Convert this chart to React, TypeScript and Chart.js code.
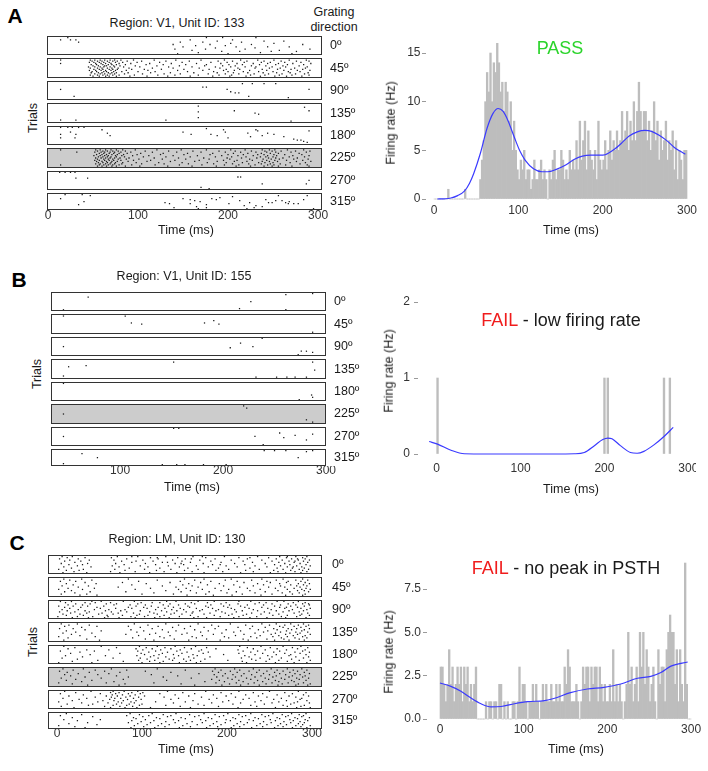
import React, { useEffect, useRef } from "react";
import { Chart, registerables } from "chart.js";

Chart.register(...registerables);

const FONT = '"Liberation Sans", Arial, Helvetica, sans-serif';
const TICK_COLOR = "#333333";
const TEXT_COLOR = "#1a1a1a";

// ---------- shared labels ----------
const DIRECTIONS = ["0º", "45º", "90º", "135º", "180º", "225º", "270º", "315º"];
const TIME_TICKS = [0, 100, 200, 300];
const TIME_TICKS_B = [100, 200, 300];
const BIN_MS = 2;

// ---------- A: V1 unit 133, spike times (ms) per trial, one list per direction ----------
const A_DIR_0 = [[22,176,194,231],[],[14,25,31,158,205],[188,240,262],[34,147,172,215],[203,251],[139,180,226,283],[164,197],[150,209,244,268],[186,230],[141,175,219,291],[160,257],[193,213,248,276],[167,236],[144,200,271]];
const A_DIR_45 = [
  [14,47,52,58,63,69,74,81,95,118,142,170,196,214,233,251,268,287],
  [49,55,60,66,72,77,88,104,131,157,189,205,221,240,259,276,290],
  [46,51,57,62,68,75,83,99,124,149,181,199,218,237,247,263,281],
  [14,53,59,64,70,79,92,113,137,165,192,210,228,244,256,272,292],
  [48,54,61,67,71,76,86,109,128,153,176,201,216,235,253,266,284],
  [50,56,63,65,73,80,97,121,146,174,194,208,226,242,261,279],
  [45,52,58,62,69,74,84,102,134,160,186,203,219,231,249,264,288],
  [47,55,60,66,71,78,90,116,139,168,191,211,230,246,258,274,286],
  [51,57,61,68,72,77,93,107,126,151,179,198,213,238,255,270,283],
  [46,53,59,64,70,75,87,111,144,172,195,207,224,243,262,277,291],
  [49,54,62,65,73,82,100,119,155,184,200,217,234,250,267,280],
  [48,56,60,67,71,76,89,114,136,162,188,206,222,239,254,269,289],
  [52,58,63,69,74,85,105,129,147,178,197,212,229,245,260,275,285],
  [47,55,61,66,72,79,96,122,141,167,190,204,225,241,257,271,290],
  [50,57,64,68,76,91,110,133,158,183,202,220,236,252,265,282],
];
const A_DIR_90 = [[],[216,227,240,253],[],[],[172,176],[],[14,199,290],[],[203],[208,212],[],[],[29,223],[267],[]];
const A_DIR_135 = [[],[167],[285],[],[],[207,290],[167],[230],[234],[],[],[167],[],[14,31,131],[270]];
const A_DIR_180 = [[14,22,27,34,40],[176],[60,195,231],[233,290],[25,150,197],[66,222,244],[14,31,159,181,251],[69,188,238],[225,262],[14,30,200],[273],[277,281],[284],[288],[]];
const A_DIR_225 = [
  [14,53,58,64,70,76,83,97,121,148,176,203,219,238,246,252,266,284],
  [55,61,66,72,78,86,108,134,161,190,208,226,241,249,259,275,291],
  [32,52,59,63,69,74,81,92,116,143,170,197,214,231,243,253,270,287],
  [57,62,68,73,79,88,103,128,155,183,206,222,237,247,256,279],
  [54,60,65,71,77,84,99,125,151,180,200,217,233,240,251,263,282],
  [51,58,63,67,75,82,94,112,139,166,193,211,228,244,254,272,290],
  [56,61,66,70,76,85,106,131,158,186,204,220,236,242,250,268,285],
  [53,59,64,69,74,80,90,118,145,173,199,215,232,245,253,261,277],
  [55,62,67,72,78,87,101,127,153,179,202,224,239,248,257,273,289],
  [52,57,63,68,73,81,95,114,141,168,195,210,227,243,252,265,283],
  [54,60,65,71,77,89,110,136,163,188,207,221,238,246,255,276,292],
  [56,61,66,70,75,83,98,123,149,177,198,216,234,241,250,269,286],
  [53,58,64,69,74,82,104,129,156,184,205,223,237,247,258,280],
  [14,57,62,67,72,79,93,119,146,171,196,212,230,244,251,264,288],
  [55,60,65,71,76,86,102,133,160,187,209,225,240,249,256,271,290],
];
const A_DIR_270 = [[13,19,25,30],[],[],[],[211,214],[31,44],[],[290],[],[],[238,287],[],[],[170],[179]];
const A_DIR_315 = [[19,38],[47,256,288],[205],[191],[14,150,182],[158,187,242,284],[163,213,253,260],[40,169,268],[130,224,245,249,264],[135,158,201,267,273,278],[34,176],[218,231],[165,238],[140,176,229],[167,221,295]];
const A_RASTER = [A_DIR_0, A_DIR_45, A_DIR_90, A_DIR_135, A_DIR_180, A_DIR_225, A_DIR_270, A_DIR_315];

// PSTH (2 ms bins starting at 0 ms) and smoothed rate
const A_RATE = [
  0,0,0,0,0,0,0,0,1,0, 0,0,0,0,0,0,0,0,1,0, 0,0,0,0,0,0,0,2,4,6,
  10,13,11,15,10,14,13,16,14,11, 12,9,12,11,8,10,5,8,5,3, 2,4,3,5,2,3,3,1,2,4,
  2,2,3,4,2,3,2,0,3,2, 4,5,2,3,3,5,4,2,3,2, 5,3,4,3,6,3,8,4,6,8,
  3,7,5,4,3,5,2,8,4,3, 4,6,3,5,7,4,6,5,7,5, 6,9,6,7,9,5,8,6,10,6,
  9,12,9,7,9,9,6,8,5,7, 10,6,8,4,7,5,6,8,4,6, 5,7,3,6,2,5,4,2,5,5,
];
const A_SMOOTH_T = [4,12,20,28,36,42,47,55,63,70,76,82,88,95,102,108,118,128,135,145,155,166,176,186,196,203,213,222,231,241,250,258,267,276,285,292,298];
const A_SMOOTH_HZ = [0,0.02,0.1,0.35,0.8,1.6,2.6,4.7,7.3,8.8,9.3,9.0,8.0,6.4,4.9,4.0,3.1,2.8,2.8,3.05,3.45,4.05,4.4,4.5,4.5,4.55,5.05,5.7,6.45,6.9,7.05,6.95,6.55,6.0,5.3,4.9,4.6];
const A_RATE_TICKS = [0, 5, 10, 15];

// ---------- B: V1 unit 155 ----------
const B_DIR_0 = [[287],[261],[],[69],[],[],[],[227],[],[],[],[],[],[216],[45,261]];
const B_DIR_45 = [[45,105],[],[],[],[191],[],[111,182],[121,196],[],[],[],[],[],[],[287]];
const B_DIR_90 = [[238],[],[],[],[217],[],[],[45,229],[207],[],[],[276,281],[287],[],[273]];
const B_DIR_135 = [[],[152,287],[],[],[67],[50],[],[],[289],[],[],[],[],[45],[232,252,262,270,281]];
const B_DIR_180 = [[45],[],[],[],[],[],[],[],[],[],[286],[],[287],[],[274]];
const B_DIR_225 = [[220],[],[223],[],[],[],[],[45],[],[],[],[],[281],[],[287]];
const B_DIR_270 = [[152,157],[],[],[],[255],[287],[270],[45,231],[259],[],[281],[],[],[],[239]];
const B_DIR_315 = [[240,250,261,287],[281],[],[63],[],[],[],[78,273],[],[],[],[],[],[45],[141,155,163,181,203]];
const B_RASTER = [B_DIR_0, B_DIR_45, B_DIR_90, B_DIR_135, B_DIR_180, B_DIR_225, B_DIR_270, B_DIR_315];

const B_BAR_T = [1, 200, 204, 271, 278];
const B_BAR_HZ = [1, 1, 1, 1, 1];
const B_SMOOTH_T = [-9,1,17,33,60,100,140,164,176,188,198,204,209,219,231,239,247,259,271,282];
const B_SMOOTH_HZ = [0.165,0.13,0.05,0.003,0,0,0,0.003,0.02,0.11,0.19,0.21,0.2,0.11,0.02,0.01,0.035,0.12,0.23,0.35];
const B_RATE_TICKS = [0, 1, 2];

// ---------- C: LM unit 130 ----------
const C_DIR_0 = [
  [6,18,71,88,95,128,160,171,197,236,262,271,281,294],[12,33,64,110,118,142,175,214,227,249,270,289],
  [3,25,82,119,151,158,186,224,258,276,283,292],[15,38,67,101,136,168,205,241,265,284,297],
  [9,28,76,93,113,147,181,219,253,273,280,290],[21,88,124,130,157,193,230,261,279,295],
  [5,36,69,104,139,146,172,209,245,268,286],[14,30,79,116,149,183,192,221,256,274,293],
  [24,65,98,131,164,199,233,263,282,298],[8,40,73,107,144,178,212,247,271,278,288],
  [17,85,121,154,190,227,259,277,291],[2,31,68,103,134,166,202,238,266,285,296],
  [11,26,80,117,150,187,222,255,275,289],[20,63,92,126,159,195,231,260,280,294],
  [7,35,74,109,141,173,216,251,269,287],
];
const C_DIR_45 = [
  [8,29,84,150,173,205,241,266,289],[15,41,118,162,198,229,258,281,295],[4,22,96,145,181,212,247,272,287],
  [33,77,133,169,220,251,270,292],[11,46,105,155,191,236,262,284,297],[19,88,148,177,208,243,275,290],
  [6,37,124,159,196,231,263,282,294],[25,72,140,166,215,249,268,286],[13,44,110,152,186,224,257,279,293],
  [2,30,92,143,171,202,239,271,288,298],[17,128,157,193,227,260,283,291],[9,39,81,146,179,211,245,274,296],
  [21,114,164,200,233,265,285],[5,35,100,137,175,218,253,277,292],[27,47,153,184,206,240,269,289],
];
const C_DIR_90 = [
  [4,17,41,52,78,91,129,140,166,185,214,228,259,267,284],[10,33,45,63,99,112,121,158,177,199,238,246,278,292],
  [22,39,58,70,95,133,151,162,193,213,233,253,272,289,296],[13,30,67,86,104,125,143,181,203,224,243,263,281,297],
  [2,19,36,55,93,111,131,154,175,196,216,256,275,291],[9,28,47,84,102,119,137,156,178,201,221,241,262,270,283],
  [15,51,69,88,106,127,145,164,183,205,226,248,268,287,298],[6,25,44,61,80,116,135,149,171,190,209,231,252,277,294],
  [12,33,57,75,98,123,141,168,187,218,236,258,273,290],[3,21,38,64,82,109,129,152,160,194,211,244,266,285],
  [16,35,53,72,90,114,138,159,180,198,229,250,279,295],[7,27,49,66,97,118,134,147,173,206,223,240,261,288],
  [11,31,59,77,94,107,126,157,185,202,219,254,271,286,297],[1,24,42,60,87,103,121,144,166,192,214,235,264,282],
  [18,37,56,73,92,115,132,161,176,208,227,247,269,293],
];
const C_DIR_135 = [
  [5,24,91,128,166,204,241,258,275,290],[14,38,107,143,182,222,250,268,284,296],[9,47,84,119,157,190,230,262,279,293],
  [29,98,136,173,213,245,266,287],[3,19,112,150,186,227,255,272,282,297],[33,87,124,162,199,237,259,276,291],
  [11,52,102,140,178,216,248,270,288],[22,94,131,169,208,243,263,281,295],[7,41,116,153,194,233,257,274,286],
  [17,81,109,147,184,220,252,269,283,298],[27,96,133,171,210,239,261,278,292],[2,45,121,159,197,228,254,271,289],
  [13,89,126,164,202,235,264,280,294],[35,104,138,176,219,247,267,285],[8,50,114,155,192,225,256,273,291],
];
const C_DIR_180 = [
  [8,52,97,118,139,163,215,240,266,287],[21,70,105,127,150,176,224,251,277,295],[13,93,112,134,158,187,231,259,283],
  [35,61,101,122,145,170,213,245,270,292],[4,44,95,116,141,167,219,236,262,289],[27,108,130,153,178,228,255,280,297],
  [16,74,99,124,147,172,214,242,268,286],[39,103,120,137,160,196,233,258,275,293],[10,57,94,114,143,165,221,248,273],
  [30,110,128,155,180,226,253,281,296],[6,66,98,119,138,161,217,239,264,290],[24,106,132,149,174,229,250,276],
  [48,96,115,136,157,201,234,261,285,298],[18,78,109,125,152,169,218,246,271],[2,41,100,121,144,164,223,257,279,294],
];
const C_DIR_225 = [
  [7,31,64,118,186,209,231,252,271,288],[19,45,82,151,193,215,238,259,278,294],[3,56,104,183,204,226,247,266,283],
  [12,38,74,134,190,212,235,256,274,291],[25,61,167,198,220,243,262,280,297],[9,48,111,185,207,229,250,269,286],
  [16,70,142,195,217,240,258,277,292],[33,84,125,188,210,233,254,273,289],[5,52,158,201,223,245,264,282,296],
  [22,78,182,206,228,249,268,285],[11,41,129,191,214,236,257,276,293],[29,67,174,197,219,242,261,279],
  [2,58,114,187,211,232,253,272,290],[18,80,146,203,225,246,265,284,298],[36,73,162,194,216,238,260,281,295],
];
const C_DIR_270 = [
  [9,40,66,79,95,130,175,214,250,284],[22,63,73,88,101,148,193,231,268,293],[4,51,69,84,98,121,162,205,242,277],
  [31,65,77,92,139,184,222,259,290],[14,58,71,86,103,155,199,237,273,296],[45,64,81,96,126,170,210,247,281],
  [7,35,68,75,90,143,188,226,264,288],[26,62,83,99,134,179,219,255,286],[18,54,67,78,93,160,202,240,270,294],
  [2,48,72,87,116,151,195,233,261,283],[29,60,76,91,137,182,216,253,279,297],[12,42,70,85,100,166,207,244,275],
  [37,66,82,97,128,173,228,266,291],[5,56,74,89,145,190,235,271,287],[20,63,80,94,110,157,213,257,282,298],
];
const C_DIR_315 = [
  [11,86,112,140,173,201,228,254,276,293],[29,97,125,156,186,214,241,265,285],[4,82,108,134,167,196,222,249,272,290],
  [42,101,130,162,191,218,245,269,288],[18,90,117,146,178,207,233,259,280,297],[93,121,151,182,210,237,262,283],
  [8,51,104,137,169,199,226,251,274,292],[24,88,114,143,175,204,231,257,278,295],[99,128,159,188,216,243,267,286],
  [36,84,110,139,171,198,224,252,275,291],[14,95,123,153,184,212,239,263,284],[47,106,132,165,193,220,247,270,289],
  [2,91,119,148,180,208,235,260,281,298],[21,102,127,157,189,215,242,266,287],[33,87,115,144,176,205,229,256,277,294],
];
const C_RASTER = [C_DIR_0, C_DIR_45, C_DIR_90, C_DIR_135, C_DIR_180, C_DIR_225, C_DIR_270, C_DIR_315];

const C_RATE = [
  3,3,2,1,2,4,2,3,1,2, 3,2,3,1,3,2,3,1,2,1, 2,3,0,0,0,0,0,1,0,1,
  1,0,1,1,0,2,2,0,1,0, 1,0,0,1,1,0,1,3,1,2, 2,1,0,1,1,2,1,2,1,0,
  1,2,1,2,1,1,2,1,1,2, 1,2,1,1,3,2,4,3,1,1, 1,2,1,0,1,3,2,3,3,1,
  3,2,3,3,1,3,2,1,2,1, 1,2,1,4,1,2,1,2,1,0, 1,2,5,2,3,1,2,3,1,5,
  3,5,2,4,3,1,2,3,1,0, 4,2,3,3,1,4,5,6,5,5, 2,4,1,4,2,1,9,2,0,0,
];
const C_SMOOTH_T = [0,13,25,37,49,61,73,89,105,125,137,156,176,196,216,236,252,264,276,296];
const C_SMOOTH_HZ = [2.08,1.88,1.6,1.21,0.88,0.7,0.72,0.88,1.0,1.06,1.2,1.52,1.73,1.83,2.02,2.35,2.46,2.68,3.05,3.29];
const C_RATE_TICKS = [0, 2.5, 5, 7.5];

// ---------- layout helpers ----------
type Area = { left: number; top: number; right: number; bottom: number };

const tickFont = { family: FONT, size: 12 };

const RASTER_PAD_L = 20;
const RASTER_PAD_T = 4;
const RASTER_AXIS_R = 44;
const RASTER_AXIS_B = 24;

type RasterProps = {
  panels: number[][][];
  area: Area;
  xMin: number;
  xMax: number;
  ticks: number[];
  yMax: number;
  boxH: number;
  shaded: number;
  dirPad: number;
  tickPad: number;
};

function Raster(p: RasterProps) {
  const ref = useRef<HTMLCanvasElement>(null);
  const w = p.area.right - p.area.left + RASTER_PAD_L + RASTER_AXIS_R;
  const h = p.area.bottom - p.area.top + RASTER_PAD_T + RASTER_AXIS_B;

  useEffect(() => {
    const boxHeight = (k: number) => Math.min(p.boxH, p.yMax - k);
    const points: { x: number; y: number }[] = [];
    p.panels.forEach((trials, k) => {
      const hk = boxHeight(k);
      const n = trials.length;
      trials.forEach((times, j) =>
        times.forEach((t) => points.push({ x: t, y: k + hk * (0.08 + (0.84 * j) / (n - 1)) }))
      );
    });

    const boxes = {
      id: "rasterBoxes",
      beforeDatasetsDraw(chart: any) {
        const { ctx, chartArea, scales } = chart;
        const y = scales.y;
        ctx.save();
        ctx.fillStyle = "#cccccc";
        const t = y.getPixelForValue(p.shaded);
        const b = y.getPixelForValue(p.shaded + boxHeight(p.shaded));
        ctx.fillRect(chartArea.left, t, chartArea.right - chartArea.left, b - t);
        ctx.restore();
      },
      afterDatasetsDraw(chart: any) {
        const { ctx, chartArea, scales } = chart;
        const y = scales.y;
        ctx.save();
        ctx.strokeStyle = "#333333";
        ctx.lineWidth = 1;
        for (let k = 0; k < p.panels.length; k++) {
          const t = Math.round(y.getPixelForValue(k)) + 0.5;
          const b = Math.round(y.getPixelForValue(k + boxHeight(k))) - 0.5;
          const l = Math.round(chartArea.left) + 0.5;
          const r = Math.round(chartArea.right) - 0.5;
          ctx.strokeRect(l, t, r - l, b - t);
        }
        ctx.restore();
      },
    };

    const chart = new Chart(ref.current as HTMLCanvasElement, {
      type: "scatter",
      data: {
        datasets: [
          {
            data: points,
            pointStyle: "rect",
            pointRadius: 0.9,
            backgroundColor: "#1a1a1a",
            borderWidth: 0,
          },
        ],
      },
      options: {
        animation: false,
        responsive: false,
        events: [],
        layout: { padding: { left: RASTER_PAD_L, top: RASTER_PAD_T, right: 0, bottom: 0 } },
        plugins: { legend: { display: false }, tooltip: { enabled: false } },
        scales: {
          x: {
            type: "linear",
            position: "bottom",
            min: p.xMin,
            max: p.xMax,
            grid: { display: false, drawTicks: false },
            border: { display: false },
            ticks: { font: tickFont, color: TICK_COLOR, padding: p.tickPad, maxRotation: 0 },
            afterBuildTicks: (s: any) => {
              s.ticks = p.ticks.map((v) => ({ value: v }));
            },
            afterFit: (s: any) => {
              s.height = RASTER_AXIS_B;
              s.paddingLeft = 0;
              s.paddingRight = 0;
            },
          },
          y: { type: "linear", display: false, min: 0, max: p.yMax, reverse: true },
          dir: {
            type: "linear",
            position: "right",
            min: 0,
            max: p.yMax,
            reverse: true,
            grid: { display: false, drawTicks: false },
            border: { display: false },
            ticks: {
              font: { family: FONT, size: 12.5 },
              color: TEXT_COLOR,
              padding: p.dirPad,
              callback: (_v: any, i: number) => DIRECTIONS[i],
            },
            afterBuildTicks: (s: any) => {
              s.ticks = DIRECTIONS.map((_, k) => ({ value: k + boxHeight(k) / 2 }));
            },
            afterFit: (s: any) => {
              s.width = RASTER_AXIS_R;
              s.paddingTop = 0;
              s.paddingBottom = 0;
            },
          },
        },
      } as any,
      plugins: [boxes],
    });
    return () => chart.destroy();
  }, []);

  return (
    <canvas
      ref={ref}
      width={w}
      height={h}
      style={{ position: "absolute", left: p.area.left - RASTER_PAD_L, top: p.area.top - RASTER_PAD_T, width: w, height: h }}
    />
  );
}

const PSTH_AXIS_L = 40;
const PSTH_PAD_T = 10;
const PSTH_PAD_R = 6;
const PSTH_AXIS_B = 24;

type PsthProps = {
  area: Area;
  xMin: number;
  xMax: number;
  yMin: number;
  yMax: number;
  yTicks: number[];
  decimals: number;
  barT: number[];
  barHz: number[];
  barThickness?: number;
  lineT: number[];
  lineHz: number[];
  yPad: number;
  xPad: number;
};

function Psth(p: PsthProps) {
  const ref = useRef<HTMLCanvasElement>(null);
  const w = p.area.right - p.area.left + PSTH_AXIS_L + PSTH_PAD_R;
  const h = p.area.bottom - p.area.top + PSTH_PAD_T + PSTH_AXIS_B;

  useEffect(() => {
    const bars = p.barT.map((t, i) => ({ x: t, y: p.barHz[i] }));
    const smooth = p.lineT.map((t, i) => ({ x: t, y: p.lineHz[i] }));
    const barSet: any = {
      type: "bar",
      data: bars,
      backgroundColor: "#bdbdbd",
      borderWidth: 0,
      barPercentage: 1,
      categoryPercentage: 1,
      order: 1,
    };
    if (p.barThickness) barSet.barThickness = p.barThickness;

    const chart = new Chart(ref.current as HTMLCanvasElement, {
      type: "bar",
      data: {
        datasets: [
          {
            type: "line",
            data: smooth,
            borderColor: "#3a3aff",
            borderWidth: 1.2,
            pointRadius: 0,
            fill: false,
            cubicInterpolationMode: "monotone",
            order: 0,
          },
          barSet,
        ],
      },
      options: {
        animation: false,
        responsive: false,
        events: [],
        layout: { padding: { left: 0, top: PSTH_PAD_T, right: PSTH_PAD_R, bottom: 0 } },
        plugins: { legend: { display: false }, tooltip: { enabled: false } },
        scales: {
          x: {
            type: "linear",
            position: "bottom",
            offset: false,
            min: p.xMin,
            max: p.xMax,
            grid: { display: false, drawTicks: false },
            border: { display: false },
            ticks: { font: tickFont, color: TICK_COLOR, padding: p.xPad, maxRotation: 0 },
            afterBuildTicks: (s: any) => {
              s.ticks = TIME_TICKS.map((v) => ({ value: v }));
            },
            afterFit: (s: any) => {
              s.height = PSTH_AXIS_B;
              s.paddingLeft = 0;
              s.paddingRight = 0;
            },
          },
          y: {
            type: "linear",
            position: "left",
            min: p.yMin,
            max: p.yMax,
            grid: { display: true, drawOnChartArea: false, drawTicks: true, tickLength: 4, color: "#9a9a9a" },
            border: { display: false },
            ticks: {
              font: tickFont,
              color: TICK_COLOR,
              padding: p.yPad,
              callback: (v: any) => Number(v).toFixed(p.decimals),
            },
            afterBuildTicks: (s: any) => {
              s.ticks = p.yTicks.map((v) => ({ value: v }));
            },
            afterFit: (s: any) => {
              s.width = PSTH_AXIS_L;
              s.paddingTop = 0;
              s.paddingBottom = 0;
            },
          },
        },
      } as any,
    });
    return () => chart.destroy();
  }, []);

  return (
    <canvas
      ref={ref}
      width={w}
      height={h}
      style={{ position: "absolute", left: p.area.left - PSTH_AXIS_L, top: p.area.top - PSTH_PAD_T, width: w, height: h }}
    />
  );
}

type TextProps = {
  x: number;
  y: number;
  size?: number;
  weight?: number;
  rotate?: boolean;
  color?: string;
  children: React.ReactNode;
};

function Text({ x, y, size = 12.5, weight = 400, rotate = false, color = TEXT_COLOR, children }: TextProps) {
  return (
    <div
      style={{
        position: "absolute",
        left: x,
        top: y,
        transform: `translate(-50%, -50%)${rotate ? " rotate(-90deg)" : ""}`,
        fontFamily: FONT,
        fontSize: size,
        fontWeight: weight,
        color,
        whiteSpace: "nowrap",
        lineHeight: 1,
      }}
    >
      {children}
    </div>
  );
}

const binCenters = (n: number) => Array.from({ length: n }, (_, i) => i * BIN_MS + BIN_MS / 2);

const PASS_GREEN = "#2bd42b";
const FAIL_RED = "#f01c1c";

export default function App() {
  return (
    <div
      style={{
        position: "absolute",
        left: 0,
        top: 0,
        width: 708,
        height: 771,
        background: "#ffffff",
        overflow: "hidden",
      }}
    >
      {/* ---- A ---- */}
      <Text x={15} y={15} size={21} weight={700} color="#000">A</Text>
      <Text x={177} y={23}>Region: V1, Unit ID: 133</Text>
      <Text x={334} y={12}>Grating</Text>
      <Text x={334} y={27}>direction</Text>
      <Text x={33} y={118} rotate>Trials</Text>
      <Raster
        panels={A_RASTER}
        area={{ left: 47, top: 36, right: 322, bottom: 210 }}
        xMin={-1.1}
        xMax={304.4}
        ticks={TIME_TICKS}
        yMax={7.743}
        boxH={0.859}
        shaded={5}
        dirPad={8}
        tickPad={-1.7}
      />
      <Text x={186} y={230}>Time (ms)</Text>
      <Psth
        area={{ left: 426, top: 36, right: 700, bottom: 202 }}
        xMin={-9.49}
        xMax={315.4}
        yMin={-0.308}
        yMax={16.75}
        yTicks={A_RATE_TICKS}
        decimals={0}
        barT={binCenters(A_RATE.length)}
        barHz={A_RATE}
        lineT={A_SMOOTH_T}
        lineHz={A_SMOOTH_HZ}
        yPad={1.5}
        xPad={1.8}
      />
      <Text x={560} y={48} size={18} color={PASS_GREEN}>PASS</Text>
      <Text x={391} y={123} rotate>Firing rate (Hz)</Text>
      <Text x={571} y={230}>Time (ms)</Text>

      {/* ---- B ---- */}
      <Text x={19} y={279} size={21} weight={700} color="#000">B</Text>
      <Text x={184} y={276}>Region: V1, Unit ID: 155</Text>
      <Text x={37} y={374} rotate>Trials</Text>
      <Raster
        panels={B_RASTER}
        area={{ left: 51, top: 292, right: 326, bottom: 466 }}
        xMin={32.9}
        xMax={300}
        ticks={TIME_TICKS_B}
        yMax={7.743}
        boxH={0.859}
        shaded={5}
        dirPad={8}
        tickPad={-2.2}
      />
      <Text x={192} y={487}>Time (ms)</Text>
      <Psth
        area={{ left: 418, top: 296, right: 690, bottom: 458 }}
        xMin={-22.3}
        xMax={302}
        yMin={-0.0526}
        yMax={2.079}
        yTicks={B_RATE_TICKS}
        decimals={0}
        barT={B_BAR_T}
        barHz={B_BAR_HZ}
        barThickness={1.7}
        lineT={B_SMOOTH_T}
        lineHz={B_SMOOTH_HZ}
        yPad={4}
        xPad={3.8}
      />
      <Text x={561} y={320} size={18}>
        <span style={{ color: FAIL_RED }}>FAIL</span> - low firing rate
      </Text>
      <Text x={389} y={371} rotate>Firing rate (Hz)</Text>
      <Text x={571} y={489}>Time (ms)</Text>

      {/* ---- C ---- */}
      <Text x={17} y={542} size={21} weight={700} color="#000">C</Text>
      <Text x={177} y={539}>Region: LM, Unit ID: 130</Text>
      <Text x={33} y={642} rotate>Trials</Text>
      <Raster
        panels={C_RASTER}
        area={{ left: 48, top: 555, right: 322, bottom: 729 }}
        xMin={-10.6}
        xMax={311.8}
        ticks={TIME_TICKS}
        yMax={7.743}
        boxH={0.859}
        shaded={5}
        dirPad={10}
        tickPad={-2.2}
      />
      <Text x={186} y={749}>Time (ms)</Text>
      <Psth
        area={{ left: 427, top: 555, right: 700, bottom: 722 }}
        xMin={-15.54}
        xMax={310.7}
        yMin={-0.173}
        yMax={9.463}
        yTicks={C_RATE_TICKS}
        decimals={1}
        barT={binCenters(C_RATE.length)}
        barHz={C_RATE}
        lineT={C_SMOOTH_T}
        lineHz={C_SMOOTH_HZ}
        yPad={2}
        xPad={0.8}
      />
      <Text x={566} y={568} size={18}>
        <span style={{ color: FAIL_RED }}>FAIL</span> - no peak in PSTH
      </Text>
      <Text x={389} y={652} rotate>Firing rate (Hz)</Text>
      <Text x={576} y={749}>Time (ms)</Text>
    </div>
  );
}
